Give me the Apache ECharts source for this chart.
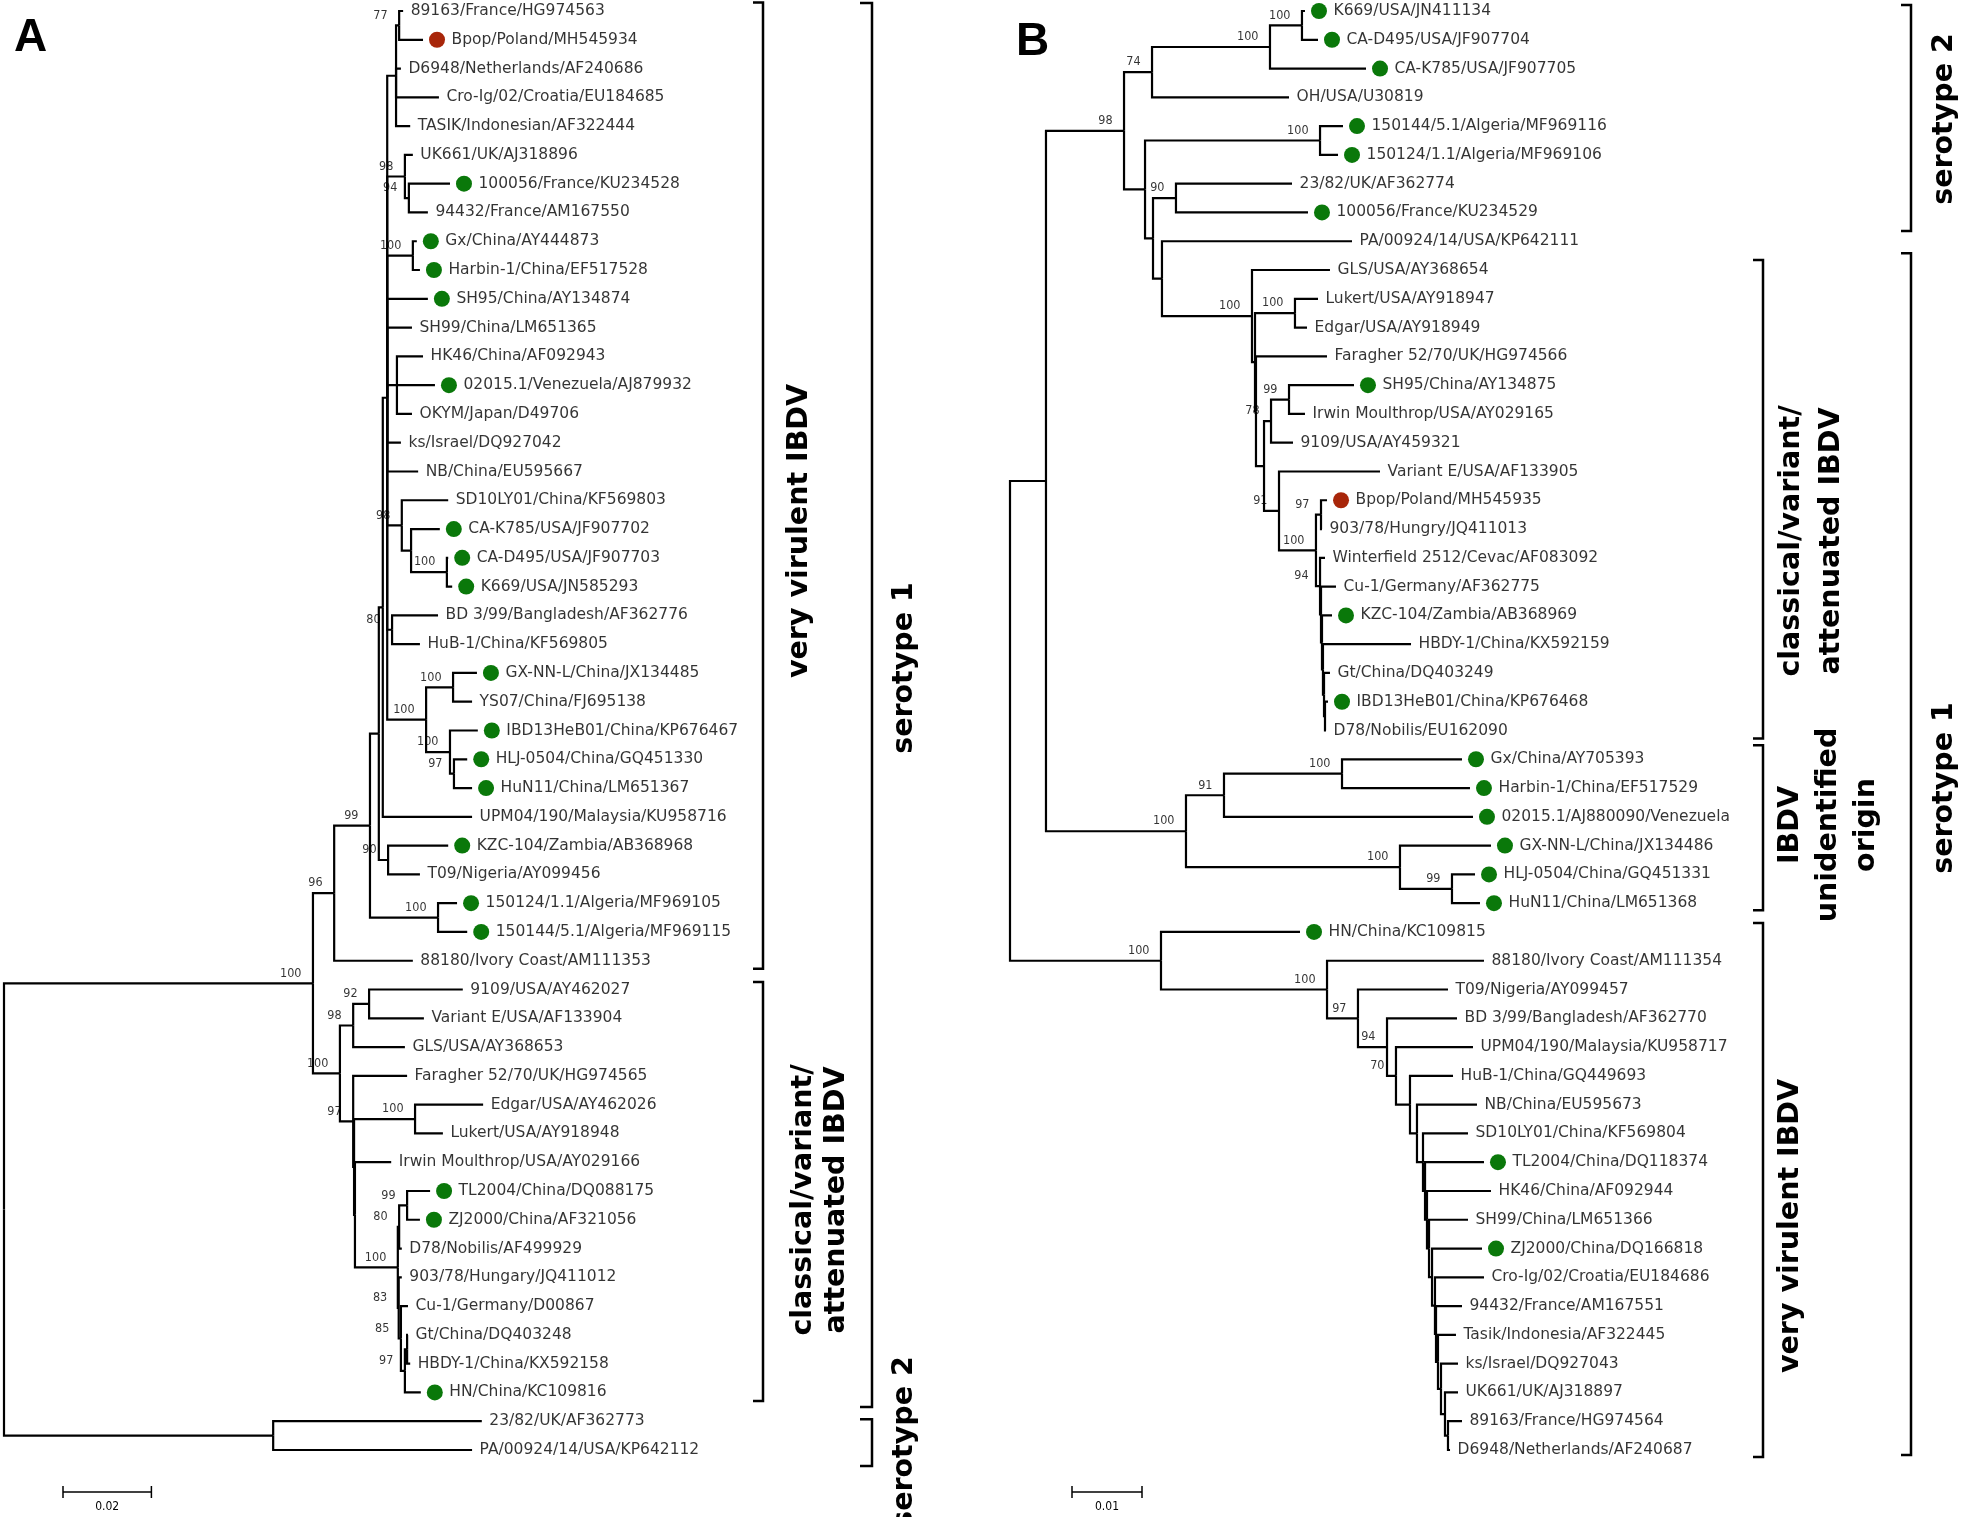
<!DOCTYPE html>
<html><head><meta charset="utf-8">
<script src="https://cdn.jsdelivr.net/npm/echarts@6/dist/echarts.min.js"></script>
<style>html,body{margin:0;padding:0;background:#fff}#c{width:1961px;height:1517px}</style>
</head><body><div id="c"></div>
<script>
// ---------------- Panel A data ----------------
const leafNamesA = ['89163/France/HG974563','Bpop/Poland/MH545934','D6948/Netherlands/AF240686','Cro-Ig/02/Croatia/EU184685','TASIK/Indonesian/AF322444','UK661/UK/AJ318896','100056/France/KU234528','94432/France/AM167550','Gx/China/AY444873','Harbin-1/China/EF517528','SH95/China/AY134874','SH99/China/LM651365','HK46/China/AF092943','02015.1/Venezuela/AJ879932','OKYM/Japan/D49706','ks/Israel/DQ927042','NB/China/EU595667','SD10LY01/China/KF569803','CA-K785/USA/JF907702','CA-D495/USA/JF907703','K669/USA/JN585293','BD 3/99/Bangladesh/AF362776','HuB-1/China/KF569805','GX-NN-L/China/JX134485','YS07/China/FJ695138','IBD13HeB01/China/KP676467','HLJ-0504/China/GQ451330','HuN11/China/LM651367','UPM04/190/Malaysia/KU958716','KZC-104/Zambia/AB368968','T09/Nigeria/AY099456','150124/1.1/Algeria/MF969105','150144/5.1/Algeria/MF969115','88180/Ivory Coast/AM111353','9109/USA/AY462027','Variant E/USA/AF133904','GLS/USA/AY368653','Faragher 52/70/UK/HG974565','Edgar/USA/AY462026','Lukert/USA/AY918948','Irwin Moulthrop/USA/AY029166','TL2004/China/DQ088175','ZJ2000/China/AF321056','D78/Nobilis/AF499929','903/78/Hungary/JQ411012','Cu-1/Germany/D00867','Gt/China/DQ403248','HBDY-1/China/KX592158','HN/China/KC109816','23/82/UK/AF362773','PA/00924/14/USA/KP642112'];
const leafParentA = ['N77','N77','TOP','TOP','TOP','N98u','N94','N94','N100g','N100g','K','K','MID','MID','MID','K','K','N98s','N411','N447','N447','N80','N80','N453','N453','N450','N97g','N97g','N383','KT','KT','ALG','ALG','VV','N92','N92','N98c','N97c','N100el','N100el','X2','N99t','N99t','N80d','N83','N85','Ngt','Ngt','N97h','S2','S2'];
const leafDepthA = [0.0903,0.0948,0.0898,0.0984,0.0919,0.0925,0.1009,0.0959,0.0934,0.0941,0.0959,0.0923,0.0948,0.0975,0.0923,0.0898,0.0937,0.1005,0.0986,0.1005,0.1014,0.0982,0.0941,0.1070,0.1059,0.1072,0.1048,0.1059,0.1059,0.1005,0.0941,0.1025,0.1048,0.0925,0.1038,0.0950,0.0907,0.0912,0.1084,0.0993,0.0876,0.0964,0.0941,0.0900,0.0900,0.0914,0.0914,0.0919,0.0943,0.1081,0.1059];
// 0 = none, 1 = green, 2 = red
const leafMarkA = [0,2,0,0,0,0,1,0,1,1,1,0,0,1,0,0,0,0,1,1,1,0,0,1,0,1,1,1,0,1,0,1,1,0,0,0,0,0,0,0,0,1,1,0,0,0,0,0,1,0,0];
const nodeIdA = ['R','S2','S1','VV','N99','ALG','N379','KT','N383','K','TOP','N77','N98u','N94','N100g','MID','N98s','N411','N447','N80','N426','N453','N450','N97g','CL','N98c','N92','N97c','X1','N100el','X2','D78n','N80d','N99t','N83','N85','N97h','Ngt'];
const nodeParentA = [null,'R','R','S1','VV','N99','N99','N379','N379','N383','K','TOP','K','N98u','K','K','K','N98s','N411','K','K','N426','N426','N450','S1','CL','N98c','CL','N97c','X1','X1','X2','D78n','N80d','D78n','N83','N85','N97h'];
const nodeDepthA = [0,0.0609,0.0699,0.0747,0.0828,0.0982,0.0848,0.0869,0.0857,0.0867,0.0887,0.0894,0.0907,0.0916,0.0925,0.0889,0.0900,0.0921,0.1002,0.0878,0.0955,0.1016,0.1009,0.1018,0.0760,0.0790,0.0826,0.0790,0.0792,0.0930,0.0794,0.0891,0.0894,0.0912,0.0893,0.0898,0.0907,0.0912];
const nodeSupportA = [null,null,100,96,99,100,null,90,null,null,null,77,98,94,100,null,98,null,100,80,100,100,100,97,100,98,92,97,null,100,null,100,80,99,83,85,97,null];

// ---------------- Panel B data ----------------
const leafNamesB = ['K669/USA/JN411134','CA-D495/USA/JF907704','CA-K785/USA/JF907705','OH/USA/U30819','150144/5.1/Algeria/MF969116','150124/1.1/Algeria/MF969106','23/82/UK/AF362774','100056/France/KU234529','PA/00924/14/USA/KP642111','GLS/USA/AY368654','Lukert/USA/AY918947','Edgar/USA/AY918949','Faragher 52/70/UK/HG974566','SH95/China/AY134875','Irwin Moulthrop/USA/AY029165','9109/USA/AY459321','Variant E/USA/AF133905','Bpop/Poland/MH545935','903/78/Hungry/JQ411013','Winterfield 2512/Cevac/AF083092','Cu-1/Germany/AF362775','KZC-104/Zambia/AB368969','HBDY-1/China/KX592159','Gt/China/DQ403249','IBD13HeB01/China/KP676468','D78/Nobilis/EU162090','Gx/China/AY705393','Harbin-1/China/EF517529','02015.1/AJ880090/Venezuela','GX-NN-L/China/JX134486','HLJ-0504/China/GQ451331','HuN11/China/LM651368','HN/China/KC109815','88180/Ivory Coast/AM111354','T09/Nigeria/AY099457','BD 3/99/Bangladesh/AF362770','UPM04/190/Malaysia/KU958717','HuB-1/China/GQ449693','NB/China/EU595673','SD10LY01/China/KF569804','TL2004/China/DQ118374','HK46/China/AF092944','SH99/China/LM651366','ZJ2000/China/DQ166818','Cro-Ig/02/Croatia/EU184686','94432/France/AM167551','Tasik/Indonesia/AF322445','ks/Israel/DQ927043','UK661/UK/AJ318897','89163/France/HG974564','D6948/Netherlands/AF240687'];
const leafParentB = ['N100k','N100k','N100a','N74','Nalg','Nalg','N90','N90','Nd','N100c','Nle','Nle','Z','N99s','N99s','N78','N91','N97b','N97b','C1','C2','C3','C4','C5','C6','C6','Ngx','Ngx','N91u','N100h','N99h','N99h','VVN','N100v','N97v','N94v','N70','Ne','Nf','V1','V2','V3','V4','V5','V6','V7','V8','V9','V10','V11','V11'];
const leafDepthB = [0.04214,0.04400,0.05086,0.03986,0.04757,0.04686,0.04029,0.04257,0.04886,0.04571,0.04400,0.04243,0.04529,0.04914,0.04214,0.04043,0.05286,0.04529,0.04457,0.04500,0.04657,0.04600,0.05729,0.04571,0.04543,0.04514,0.06457,0.06571,0.06614,0.06871,0.06643,0.06714,0.04143,0.06771,0.06257,0.06386,0.06614,0.06329,0.06671,0.06543,0.06771,0.06871,0.06543,0.06743,0.06771,0.06457,0.06371,0.06400,0.06400,0.06457,0.06286];
const leafMarkB = [1,1,1,0,1,1,0,1,0,0,0,0,0,1,0,0,0,2,0,0,0,1,0,0,1,0,1,1,1,1,1,1,1,0,0,0,0,0,0,0,1,0,0,1,0,0,0,0,0,0,0];
const nodeIdB = ['R','BA','N98','N74','N100a','N100k','Nb','Nalg','Nc','N90','Nd','N100c','X','Nle','Z','N1264','N78','N99s','N91','N100d','N97b','C1','C2','C3','C4','C5','C6','UO','N91u','Ngx','N100h','N99h','VVN','N100v','N97v','N94v','N70','Ne','Nf','V1','V2','V3','V4','V5','V6','V7','V8','V9','V10','V11'];
const nodeParentB = [null,'R','BA','N98','N74','N100a','N98','Nb','Nb','Nc','Nc','Nd','N100c','X','X','Z','N1264','N78','N1264','N91','N100d','N100d','C1','C2','C3','C4','C5','BA','UO','N91u','UO','N100h','R','VVN','N100v','N97v','N94v','N70','Ne','Nf','V1','V2','V3','V4','V5','V6','V7','V8','V9','V10'];
const nodeDepthB = [0,0.00514,0.01629,0.02029,0.03714,0.04171,0.01929,0.04429,0.02043,0.02371,0.02171,0.03457,0.03500,0.04071,0.03514,0.03629,0.03729,0.03986,0.03843,0.04371,0.04443,0.04429,0.04443,0.04457,0.04471,0.04486,0.04500,0.02514,0.03057,0.04743,0.05571,0.06314,0.02157,0.04529,0.04971,0.05386,0.05514,0.05714,0.05814,0.05900,0.05929,0.05957,0.05986,0.06029,0.06071,0.06086,0.06114,0.06157,0.06214,0.06257];
const nodeSupportB = [null,null,98,74,100,100,null,100,null,90,null,100,null,100,null,null,78,99,91,100,97,94,null,null,null,null,null,100,91,100,100,99,100,100,97,94,70,null,null,null,null,null,null,null,null,null,null,null,null,null];

const scaleBarA = 0.02, scaleBarB = 0.01;

// ---------------- tree layout ----------------
function layoutTree(nodeIds, nodeParent, nodeDepth, leafParent, leafDepth) {
  const kids = {};
  nodeIds.forEach(id => kids[id] = []);
  nodeIds.forEach((id, i) => { if (nodeParent[i] !== null) kids[nodeParent[i]].push({t: 'n', i}); });
  leafParent.forEach((p, i) => kids[p].push({t: 'l', i}));
  const nodeY = {};
  function yOf(c) { return c.t === 'l' ? c.i : nodeYof(nodeIds[c.i]); }
  function nodeYof(id) {
    if (nodeY[id] !== undefined) return nodeY[id];
    const ys = kids[id].map(yOf);
    nodeY[id] = (Math.min(...ys) + Math.max(...ys)) / 2;
    return nodeY[id];
  }
  const segs = [];
  nodeIds.forEach((id, i) => {
    const py = nodeYof(id), px = nodeDepth[i];
    kids[id].forEach(c => {
      const cy = yOf(c);
      const cx = c.t === 'l' ? leafDepth[c.i] : nodeDepth[c.i];
      segs.push({coords: [[px, py], [px, cy], [cx, cy]]});
    });
  });
  return {nodeY, segs};
}

const treeA = layoutTree(nodeIdA, nodeParentA, nodeDepthA, leafParentA, leafDepthA);
const treeB = layoutTree(nodeIdB, nodeParentB, nodeDepthB, leafParentB, leafDepthB);

const LEAF_FONT = 'DejaVu Sans';
const SUP_FONT = "'DejaVu Sans Condensed', 'DejaVu Sans', sans-serif";

function panelSeries(k, names, marks, leafDepth, nodeIds, nodeDepth, nodeSupport, tree) {
  return [
    {type: 'lines', coordinateSystem: 'cartesian2d', xAxisIndex: k, yAxisIndex: k, polyline: true, silent: true,
     lineStyle: {color: '#000', width: 2.2, opacity: 1, curveness: 0}, data: tree.segs, z: 2},
    {type: 'scatter', xAxisIndex: k, yAxisIndex: k, symbol: 'circle', symbolSize: 16, symbolOffset: [14, 0], silent: true, z: 3,
     data: marks.map((m, i) => m ? {value: [leafDepth[i], i], itemStyle: {color: m === 2 ? '#a8260a' : '#0a780a', opacity: 1}} : null).filter(Boolean)},
    {type: 'scatter', xAxisIndex: k, yAxisIndex: k, symbolSize: 1, silent: true, z: 4,
     itemStyle: {color: 'rgba(0,0,0,0)'},
     data: names.map((n, i) => ({value: [leafDepth[i], i], name: n, label: {distance: marks[i] ? 28 : 7}})),
     label: {show: true, position: 'right', formatter: p => p.name, fontFamily: LEAF_FONT, fontSize: 15.5, color: '#000'}},
    {type: 'scatter', xAxisIndex: k, yAxisIndex: k, symbolSize: 1, silent: true, z: 4,
     itemStyle: {color: 'rgba(0,0,0,0)'},
     data: nodeIds.map((id, i) => nodeSupport[i] != null ? {value: [nodeDepth[i], tree.nodeY[id]], name: String(nodeSupport[i])} : null).filter(Boolean),
     label: {show: true, position: 'left', distance: 11, offset: [0, -10], formatter: p => p.name, fontFamily: SUP_FONT, fontSize: 12.5, color: '#000'}}
  ];
}

const chart = echarts.init(document.getElementById('c'), null, {renderer: 'canvas'});
chart.setOption({
  animation: false,
  backgroundColor: '#fff',
  grid: [{left: 4, top: 11, width: 884, height: 1439}, {left: 1010, top: 11, width: 700, height: 1439}],
  xAxis: [{gridIndex: 0, type: 'value', min: 0, max: 0.2, show: false}, {gridIndex: 1, type: 'value', min: 0, max: 0.1, show: false}],
  yAxis: [{gridIndex: 0, type: 'value', min: 0, max: 50, inverse: true, show: false}, {gridIndex: 1, type: 'value', min: 0, max: 50, inverse: true, show: false}],
  series: [].concat(
    panelSeries(0, leafNamesA, leafMarkA, leafDepthA, nodeIdA, nodeDepthA, nodeSupportA, treeA),
    panelSeries(1, leafNamesB, leafMarkB, leafDepthB, nodeIdB, nodeDepthB, nodeSupportB, treeB)
  )
});

// ---------------- annotations ----------------
function rowY(g, r) { return chart.convertToPixel({gridIndex: g}, [0, r])[1]; }
function xPix(g, v) { return chart.convertToPixel({gridIndex: g}, [v, 0])[0]; }
const LW = 2.5;
function bracket(x, y1, y2, tick) {
  return {type: 'polyline', shape: {points: [[x - tick, y1], [x, y1], [x, y2], [x - tick, y2]]},
          style: {stroke: '#000', lineWidth: LW, fill: null}, z: 10};
}
function vtext(x, y, text, lh) {
  return {type: 'text', x, y, rotation: Math.PI / 2, z: 10,
          style: {text, fill: '#000', font: 'bold 28.5px "DejaVu Sans"', align: 'center', verticalAlign: 'middle', lineHeight: lh || 34}};
}
function scaleBar(g, x0, y, len, label) {
  const w = xPix(g, len) - xPix(g, 0);
  return [
    {type: 'polyline', shape: {points: [[x0, y - 6], [x0, y + 6]]}, style: {stroke: '#000', lineWidth: 1.5}},
    {type: 'polyline', shape: {points: [[x0, y], [x0 + w, y]]}, style: {stroke: '#000', lineWidth: 1.5}},
    {type: 'polyline', shape: {points: [[x0 + w, y - 6], [x0 + w, y + 6]]}, style: {stroke: '#000', lineWidth: 1.5}},
    {type: 'text', x: x0 + w / 2, y: y + 15, style: {text: label, fill: '#000', font: '12px "DejaVu Sans Condensed", "DejaVu Sans"', align: 'center', verticalAlign: 'middle'}}
  ];
}

const graphics = [
  {type: 'text', x: 14, y: 15, style: {text: 'A', fill: '#000', font: 'bold 46px "Liberation Sans"', align: 'left', verticalAlign: 'top'}},
  {type: 'text', x: 1016, y: 19, style: {text: 'B', fill: '#000', font: 'bold 46px "Liberation Sans"', align: 'left', verticalAlign: 'top'}},
  // Panel A brackets
  bracket(763, rowY(0, 0) - 8.5, rowY(0, 33) + 8, 10),
  bracket(763, rowY(0, 34) - 7.5, rowY(0, 48) + 8.5, 10),
  bracket(872, rowY(0, 0) - 8, rowY(0, 48) + 14.5, 12),
  bracket(872, rowY(0, 49) - 2, rowY(0, 50) + 16, 12),
  vtext(800, 531, 'very virulent IBDV'),
  vtext(820, 1200, 'classical/variant/\nattenuated IBDV', 33),
  vtext(905, 668, 'serotype 1'),
  vtext(905, 1442, 'serotype 2'),
  // Panel B brackets
  bracket(1911, rowY(1, 0) - 6, rowY(1, 7) + 18.5, 10),
  bracket(1911, rowY(1, 8) + 12, rowY(1, 50) + 5, 10),
  bracket(1763, rowY(1, 9) - 10, rowY(1, 25) + 8, 10),
  bracket(1763, rowY(1, 26) - 14, rowY(1, 31) + 7, 10),
  bracket(1763, rowY(1, 32) - 9, rowY(1, 50) + 7, 10),
  vtext(1812, 541, 'classical/variant/\nattenuated IBDV', 40),
  vtext(1829, 825, 'IBDV\nunidentified\norigin', 38),
  vtext(1791, 1226, 'very virulent IBDV'),
  vtext(1945, 788, 'serotype 1'),
  vtext(1945, 119, 'serotype 2')
].concat(scaleBar(0, 63, 1492, scaleBarA, '0.02'), scaleBar(1, 1072, 1492, scaleBarB, '0.01'));

chart.setOption({graphic: graphics});
</script>
</body></html>
